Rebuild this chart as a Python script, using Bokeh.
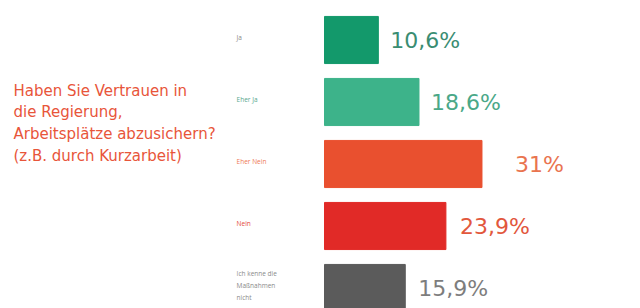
from bokeh.plotting import figure
from bokeh.models import Range1d, ColumnDataSource
from bokeh.core.properties import value
from bokeh.embed import file_html
from bokeh.resources import INLINE

categories = ["Ja", "Eher Ja", "Eher Nein", "Nein", "Ich kenne die\nMaßnahmen\nnicht"]
values = [10.6, 18.6, 31.0, 23.9, 15.9]
value_labels = ["10,6%", "18,6%", "31%", "23,9%", "15,9%"]
question = "Haben Sie Vertrauen in\ndie Regierung,\nArbeitsplätze abzusichern?\n(z.B. durch Kurzarbeit)"

bar_colors = ["#13996b", "#3db38a", "#e9502f", "#e12a27", "#5b5b5b"]
label_colors = ["#3a8d72", "#4aa888", "#e9744f", "#e2573c", "#7d7d7d"]
cat_colors = ["#8a8a8a", "#5aa88e", "#ee7a55", "#e44a3a", "#8a8a8a"]
gap_px = [12, 12, 33, 14, 13]

W, H = 640, 308
PX_PER = 5.08
X0 = 324
xr = Range1d(-X0 / PX_PER, (W - X0) / PX_PER)
ROW = 62.0
Y0 = 39.5
yr = Range1d((H - Y0) / ROW, -Y0 / ROW)

p = figure(width=W, height=H, x_range=xr, y_range=yr, output_backend="svg",
           toolbar_location=None, min_border=0)
p.axis.visible = False
p.grid.visible = False
p.outline_line_color = None
p.background_fill_color = "white"
p.border_fill_color = "white"

idx = list(range(len(categories)))
src = ColumnDataSource(dict(y=idx, v=values, color=bar_colors, lab=value_labels,
                            lcol=label_colors, cat=categories, ccol=cat_colors,
                            gap=gap_px, cy=[i - 0.04 for i in idx]))

p.hbar(y="y", left=0, right="v", height=0.76, color="color", source=src)
p.text(x="v", y="y", text="lab", text_color="lcol", x_offset="gap",
       text_font=value("DejaVu Sans"), text_font_size="22px", text_baseline="middle",
       text_align="left", source=src)
p.text(x=-17.3, y="cy", text="cat", text_color="ccol", text_font=value("Open Sans"),
       text_font_size="6.5px", text_baseline="middle", text_align="left",
       text_line_height=1.35, source=src)

p.text(x=[(13 - X0) / PX_PER], y=[(81 - Y0) / ROW], text=[question],
       text_color="#e8553a", text_font=value("DejaVu Sans"), text_font_size="15px",
       text_baseline="top", text_align="left", text_line_height=1.22)

open("out.html", "w").write(file_html(p, INLINE))
